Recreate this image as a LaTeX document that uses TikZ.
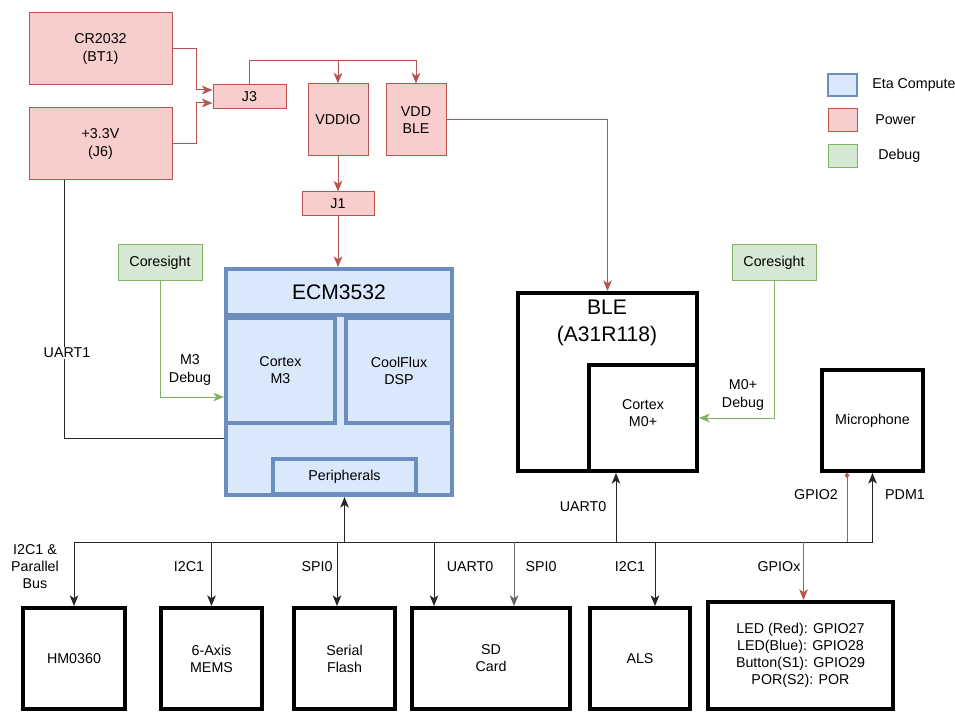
\documentclass[tikz,border=0pt]{standalone}
\usepackage{fontspec}
\setmainfont{Liberation Sans}
\usetikzlibrary{arrows.meta,calc}
\definecolor{bfill}{HTML}{DAE8FC}
\definecolor{bline}{HTML}{6C8EBF}
\definecolor{rfill}{HTML}{F8CECC}
\definecolor{rline}{HTML}{B85450}
\definecolor{gfill}{HTML}{D5E8D4}
\definecolor{gline}{HTML}{82B366}
\newcommand\mybox[7]{\node[#1, minimum width={(#5-#3)*0.75pt}, minimum height={(#6-#4)*0.75pt}] (#2) at ({(#3+#5)/2},{(#4+#6)/2}) {#7};}
\begin{document}
\begin{tikzpicture}[x=0.75pt,y=-0.75pt,
  every node/.style={font=\fontsize{10.7}{12.8}\selectfont, align=center, inner sep=0pt},
  pbox/.style={draw=rline, fill=rfill, line width=0.75pt},
  gbox/.style={draw=gline, fill=gfill, line width=0.75pt},
  ebox/.style={draw=bline, fill=bfill, line width=3pt},
  kbox/.style={draw=black, fill=white, line width=3pt},
  bigfont/.style={font=\fontsize{15.8}{20}\selectfont},
  tip/.style={-{Stealth[length=8pt,width=6.5pt,inset=2.2pt]}},
  rl/.style={draw=rline, line width=0.75pt},
  gl/.style={draw=gline, line width=0.75pt},
  kl/.style={draw=black!85, line width=0.75pt},
  lbl/.style={fill=white, inner sep=1pt}]
\useasboundingbox (0,0) rectangle (955,712);

% power boxes
\mybox{pbox}{cr}{29}{13}{172}{85}{CR2032\\(BT1)}
\mybox{pbox}{v33}{29}{108}{172}{180}{+3.3V\\(J6)}
\mybox{pbox}{jthree}{213}{85}{286}{109}{J3}
\mybox{pbox}{vddio}{308}{84}{368}{156}{VDDIO}
\mybox{pbox}{vddble}{386}{84}{446}{156}{VDD\\BLE}
\mybox{pbox}{jone}{302}{192}{374}{216}{J1}

% legend
\mybox{ebox, line width=2pt}{lgE}{828}{74}{857}{96}{}
\node[anchor=west] (lgEt) at (872,85) {Eta Compute};
\mybox{pbox}{lgP}{828}{109}{857}{132}{}
\node[anchor=west] (lgPt) at (875,120) {Power};
\mybox{gbox}{lgD}{828}{145}{857}{168}{}
\node[anchor=west] (lgDt) at (878,156) {Debug};

% debug boxes
\mybox{gbox}{csa}{118}{245}{202}{281}{Coresight}
\mybox{gbox}{csb}{732}{245}{816}{281}{Coresight}

% ECM3532
\mybox{ebox}{ecm}{226}{269}{452}{495}{}
\mybox{ebox, bigfont}{ecmt}{226}{269}{452}{315}{ECM3532}
\mybox{ebox}{cm3}{226}{318}{335}{423}{Cortex\\M3}
\mybox{ebox}{dsp}{346}{318}{452}{423}{CoolFlux\\DSP}
\mybox{ebox}{per}{273}{459}{416}{494}{Peripherals}

% BLE
\mybox{kbox}{ble}{518}{293}{697}{471}{}
\node[bigfont] (bletitle) at (607,323) {BLE\\(A31R118)};
\mybox{kbox}{m0}{589}{365}{697}{471}{}
\node (m0t) at (643,413) {Cortex\\M0+};

% microphone
\mybox{kbox}{mic}{822}{370}{923}{471}{Microphone}

% bottom devices
\mybox{kbox}{hm}{23}{608}{125}{709}{HM0360}
\mybox{kbox}{mems}{161}{608}{262}{709}{6-Axis\\MEMS}
\mybox{kbox}{flash}{294}{608}{395}{709}{Serial\\Flash}
\mybox{kbox}{sd}{412}{608}{570}{709}{SD\\Card}
\mybox{kbox}{als}{590}{608}{690}{709}{ALS}
\mybox{kbox}{led}{708}{602}{893}{709}{LED (Red): GPIO27\\LED(Blue): GPIO28\\Button(S1): GPIO29\\POR(S2): POR}

% power connectors
\draw[rl,tip] (cr.east) -- ++(24,0) |- ($(jthree.west)+(0,-7)$);
\draw[rl,tip] (v33.east) -- ++(24,0) |- ($(jthree.west)+(0,6)$);
\path (jthree.north) ++(0,-24) coordinate (ptop);
\draw[rl,tip] (jthree.north) -- (ptop) -| (vddble.north);
\draw[rl,tip] (vddio.north |- ptop) -- (vddio.north);
\draw[rl,tip] (vddio.south) -- (jone.north);
\draw[rl,tip] (jone.south) -- (jone.south |- ecm.north);
\draw[rl,tip] (vddble.east) -| (ble.north);

% debug connectors
\draw[gl,tip] (csa.south) |- ($(ecm.west)+(0,15)$);
\node (m3dbg) at (190,370) {M3\\Debug};
\draw[gl,tip] (csb.south) |- (m0.east);
\node (m0dbg) at (743,395) {M0+\\Debug};

% UART1
\draw[kl] ($(v33.south west)+(36,0)$) |- ($(ecm.west)+(0,56)$);
\node[lbl] (uart1) at (67,353) {UART1};

% bus
\coordinate (busy) at (0,542);
\draw[kl,tip] (hm.north |- busy) -- (mic.south |- busy) -- (mic.south);
\draw[kl,tip] (hm.north |- busy) -- (hm.north);
\draw[kl,tip] (mems.north |- busy) -- (mems.north);
\draw[kl,tip] ($(flash.north |- busy)+(-7.5,0)$) -- ($(flash.north)+(-7.5,0)$);
\draw[kl,tip] (per.south |- busy) -- (per.south |- ecm.south);
\draw[kl,tip] ($(sd.north |- busy)+(-57,0)$) -- ($(sd.north)+(-57,0)$);
\draw[kl,draw=black!60,tip] ($(sd.north |- busy)+(23,0)$) -- ($(sd.north)+(23,0)$);
\draw[kl,tip] ($(m0.south |- busy)+(-27,0)$) -- ($(m0.south)+(-27,0)$);
\draw[kl,tip] ($(als.north |- busy)+(15,0)$) -- ($(als.north)+(15,0)$);
\draw[rl,tip] ($(led.north |- busy)+(3,0)$) -- ($(led.north)+(3,0)$);
\draw[rl,-{Circle[length=3.5pt]}] ($(mic.south |- busy)+(-25.5,0)$) -- ($(mic.south)+(-25.5,0)$);

% bus labels
\node (lhm) at (35,567) {I2C1 \&\\Parallel\\Bus};
\node (lmems) at (189,567) {I2C1};
\node (lflash) at (317,567) {SPI0};
\node (lsdu) at (470,567) {UART0};
\node (lsds) at (541,567) {SPI0};
\node (lals) at (630,567) {I2C1};
\node (lled) at (779,567) {GPIOx};
\node (lble) at (583,507) {UART0};
\node (lgpio) at (816,495) {GPIO2};
\node (lpdm) at (905,495) {PDM1};
\end{tikzpicture}
\end{document}
